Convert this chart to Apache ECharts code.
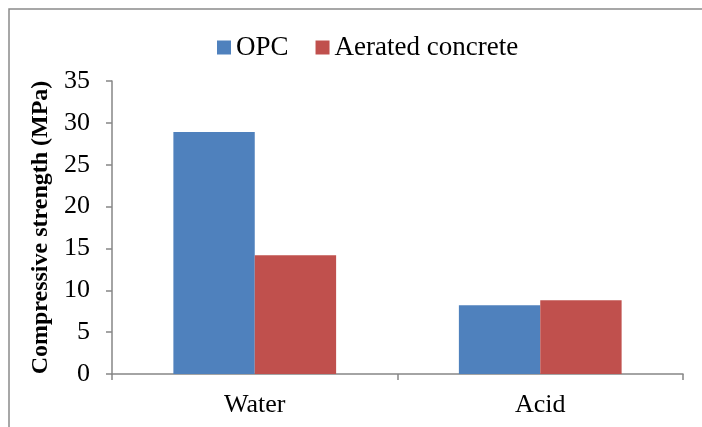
<!DOCTYPE html>
<html>
<head>
<meta charset="utf-8">
<script src="https://cdn.jsdelivr.net/npm/echarts@6/dist/echarts.min.js"></script>
<style>html,body{margin:0;padding:0;background:#fff;}#c{width:702px;height:427px;}</style>
</head>
<body>
<div id="c"></div>
<script>
var categories = ['Water', 'Acid'];
var opcValues = [28.9, 8.2];
var aeratedValues = [14.2, 8.8];
var yTicks = [0, 5, 10, 15, 20, 25, 30, 35];

var chart = echarts.init(document.getElementById('c'));
var serif = '"Liberation Serif", "Times New Roman", serif';
var axisColor = '#868686';
chart.setOption({
  animation: false,
  textStyle: { fontFamily: serif },
  graphic: [{
    type: 'rect',
    shape: { x: 9, y: 9, width: 760, height: 480 },
    style: { fill: 'none', stroke: '#8a8a8a', lineWidth: 1.5 },
    silent: true
  }],
  legend: {
    left: 212, top: 29,
    itemWidth: 14, itemHeight: 14, itemGap: 27,
    icon: 'rect',
    textStyle: { fontFamily: serif, fontSize: 27, color: '#000' },
    data: ['OPC', 'Aerated concrete']
  },
  grid: { left: 112, right: 19, top: 81, bottom: 53 },
  xAxis: {
    type: 'category',
    data: categories,
    axisLine: { lineStyle: { color: axisColor, width: 1.5 } },
    axisTick: { show: true, length: 6, lineStyle: { color: axisColor, width: 1.5 } },
    axisLabel: { fontFamily: serif, fontSize: 26, color: '#000', margin: 18 }
  },
  yAxis: {
    type: 'value',
    min: yTicks[0], max: yTicks[yTicks.length - 1], interval: 5,
    name: 'Compressive strength (MPa)',
    nameLocation: 'middle', nameGap: 58, nameRotate: 90,
    nameTextStyle: { fontFamily: serif, fontSize: 24, fontWeight: 'bold', color: '#000' },
    axisLine: { show: true, lineStyle: { color: axisColor, width: 1.5 } },
    axisTick: { show: true, length: 6, lineStyle: { color: axisColor, width: 1.5 } },
    splitLine: { show: false },
    axisLabel: { fontFamily: serif, fontSize: 26, color: '#000', margin: 22 }
  },
  series: [
    { name: 'OPC', type: 'bar', data: opcValues, barGap: '0%', barCategoryGap: '43%',
      itemStyle: { color: '#4F81BD' } },
    { name: 'Aerated concrete', type: 'bar', data: aeratedValues, barGap: '0%', barCategoryGap: '43%',
      itemStyle: { color: '#C0504D' } }
  ]
});
</script>
</body>
</html>
